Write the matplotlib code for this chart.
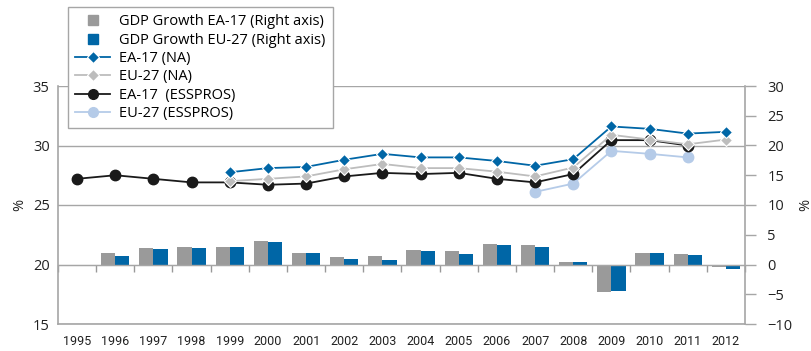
import numpy as np
import matplotlib
matplotlib.use("Agg")
import matplotlib.pyplot as plt
from matplotlib.lines import Line2D

years = [str(y) for y in range(1995, 2013)]

# GDP growth (right axis, %)
gdp_ea17 = [0.0, 1.9, 2.7, 2.9, 2.9, 3.9, 1.9, 1.2, 1.4, 2.5, 2.2, 3.4, 3.2, 0.4, -4.6, 1.9, 1.7, -0.45]
gdp_eu27 = [0.0, 1.4, 2.55, 2.7, 2.9, 3.7, 1.9, 0.9, 0.7, 2.2, 1.7, 3.2, 2.9, 0.35, -4.45, 1.9, 1.55, -0.75]

# Social protection expenditure (left axis, % of GDP)
ea17_na = [None, None, None, None, 27.75, 28.1, 28.2, 28.8, 29.3, 29.0, 29.0, 28.7, 28.3, 28.85, 31.6, 31.4, 31.0, 31.15]
eu27_na = [None, None, None, None, 27.0, 27.2, 27.4, 28.0, 28.45, 28.1, 28.1, 27.8, 27.4, 28.15, 30.9, 30.5, 30.1, 30.5]
ea17_esspros = [27.2, 27.5, 27.2, 26.9, 26.9, 26.7, 26.8, 27.4, 27.7, 27.6, 27.7, 27.2, 26.9, 27.6, 30.45, 30.45, 30.0, None]
eu27_esspros = [None] * 12 + [26.1, 26.8, 29.55, 29.3, 29.0, None]

BLUE = "#0066a6"
GREY_BAR = "#9a9a9a"
GREY_LINE = "#bdbdbd"
LIGHT_BLUE = "#b5cbe8"
BLACK = "#1a1a1a"
AXIS = "#a6a6a6"
TEXT = "#222222"

plt.rcParams["font.family"] = ["Open Sans", "DejaVu Sans"]

def to_arr(vals):
    return np.array([np.nan if v is None else v for v in vals], dtype=float)

x = np.arange(len(years))
rect = [58 / 812, 1 - 324 / 351, (745 - 58) / 812, (324 - 86) / 351]

fig = plt.figure(figsize=(8.12, 3.51), dpi=100)

# separate axes for the zero line with category ticks (right-axis scale)
axz = fig.add_axes(rect)
axz.set_xlim(-0.5, len(years) - 0.5)
axz.set_ylim(-10, 30)
axz.patch.set_visible(False)
for s in ["top", "left", "right"]:
    axz.spines[s].set_visible(False)
axz.spines["bottom"].set_position(("data", 0))
axz.spines["bottom"].set_color(AXIS)
axz.set_yticks([])
axz.set_xticks(np.arange(len(years) + 1) - 0.5)
axz.tick_params(axis="x", direction="out", length=5, width=1, color="#999999",
                labelbottom=False)

ax = fig.add_axes(rect)
ax2 = ax.twinx()

# bars on the right axis
w = 0.37
ax2.bar(x - w / 2, gdp_ea17, width=w, color=GREY_BAR, zorder=2)
ax2.bar(x + w / 2, gdp_eu27, width=w, color=BLUE, zorder=2)
ax2.set_ylim(-10, 30)
ax2.set_yticks(range(-10, 31, 5))

# lines drawn on top
ax.set_zorder(ax2.get_zorder() + 1)
ax.patch.set_visible(False)

ax.plot(x, to_arr(eu27_esspros), color=LIGHT_BLUE, lw=1.3, marker="o", ms=7.5,
        mec=LIGHT_BLUE, zorder=3)
ax.plot(x, to_arr(ea17_esspros), color=BLACK, lw=1.3, marker="o", ms=7.5,
        mec=BLACK, zorder=4)
ax.plot(x, to_arr(eu27_na), color=GREY_LINE, lw=1.3, marker="D", ms=6.5,
        mec="white", mew=0.8, zorder=5)
ax.plot(x, to_arr(ea17_na), color=BLUE, lw=1.3, marker="D", ms=6.5,
        mec="white", mew=0.8, zorder=6)

ax.set_xlim(-0.5, len(years) - 0.5)
ax.set_ylim(15, 35)
ax.set_yticks(range(15, 36, 5))
ax.set_xticks(x)
ax.set_xticklabels(years, family=["Liberation Sans Narrow", "Roboto", "DejaVu Sans"],
                   fontsize=9)
ax.tick_params(axis="x", length=0, pad=8, colors=TEXT)
ax.tick_params(axis="y", length=0, pad=6, labelsize=10.5, colors=TEXT)
ax.yaxis.grid(True, color=AXIS, lw=1)
ax.set_axisbelow(True)
for s in ["top", "right"]:
    ax.spines[s].set_visible(False)
for s in ["left", "bottom"]:
    ax.spines[s].set_color(AXIS)
    ax.spines[s].set_linewidth(1.2)

for s in ["top", "left", "bottom"]:
    ax2.spines[s].set_visible(False)
ax2.spines["right"].set_color(AXIS)
ax2.spines["right"].set_linewidth(1.2)
ax2.tick_params(axis="y", length=8, width=1, color=AXIS, pad=8, labelsize=10.5,
                labelcolor=TEXT)

ax.set_ylabel("%", fontsize=10.5, labelpad=4, color=TEXT)
ax2.set_ylabel("%", fontsize=10.5, labelpad=4, color=TEXT)

handles = [
    Line2D([], [], ls="none", marker="s", ms=7, color=GREY_BAR),
    Line2D([], [], ls="none", marker="s", ms=7, color=BLUE),
    Line2D([], [], color=BLUE, lw=1.3, marker="D", ms=6, mec="white", mew=0.8),
    Line2D([], [], color=GREY_LINE, lw=1.3, marker="D", ms=6, mec="white", mew=0.8),
    Line2D([], [], color=BLACK, lw=1.3, marker="o", ms=7),
    Line2D([], [], color=LIGHT_BLUE, lw=1.3, marker="o", ms=7),
]
labels = [
    "GDP Growth EA-17 (Right axis)",
    "GDP Growth EU-27 (Right axis)",
    "EA-17 (NA)",
    "EU-27 (NA)",
    "EA-17  (ESSPROS)",
    "EU-27 (ESSPROS)",
]
leg = ax.legend(handles, labels, loc="upper left", bbox_to_anchor=(68 / 812, 1 - 7 / 351),
                bbox_transform=fig.transFigure, borderaxespad=0, fontsize=10.5,
                frameon=True, fancybox=False, framealpha=1, edgecolor=AXIS,
                handlelength=2.4, handletextpad=0.6, labelspacing=0.23,
                borderpad=0.5)
leg.get_frame().set_linewidth(1)
leg.set_zorder(10)

fig.savefig("out.png", dpi=100)
